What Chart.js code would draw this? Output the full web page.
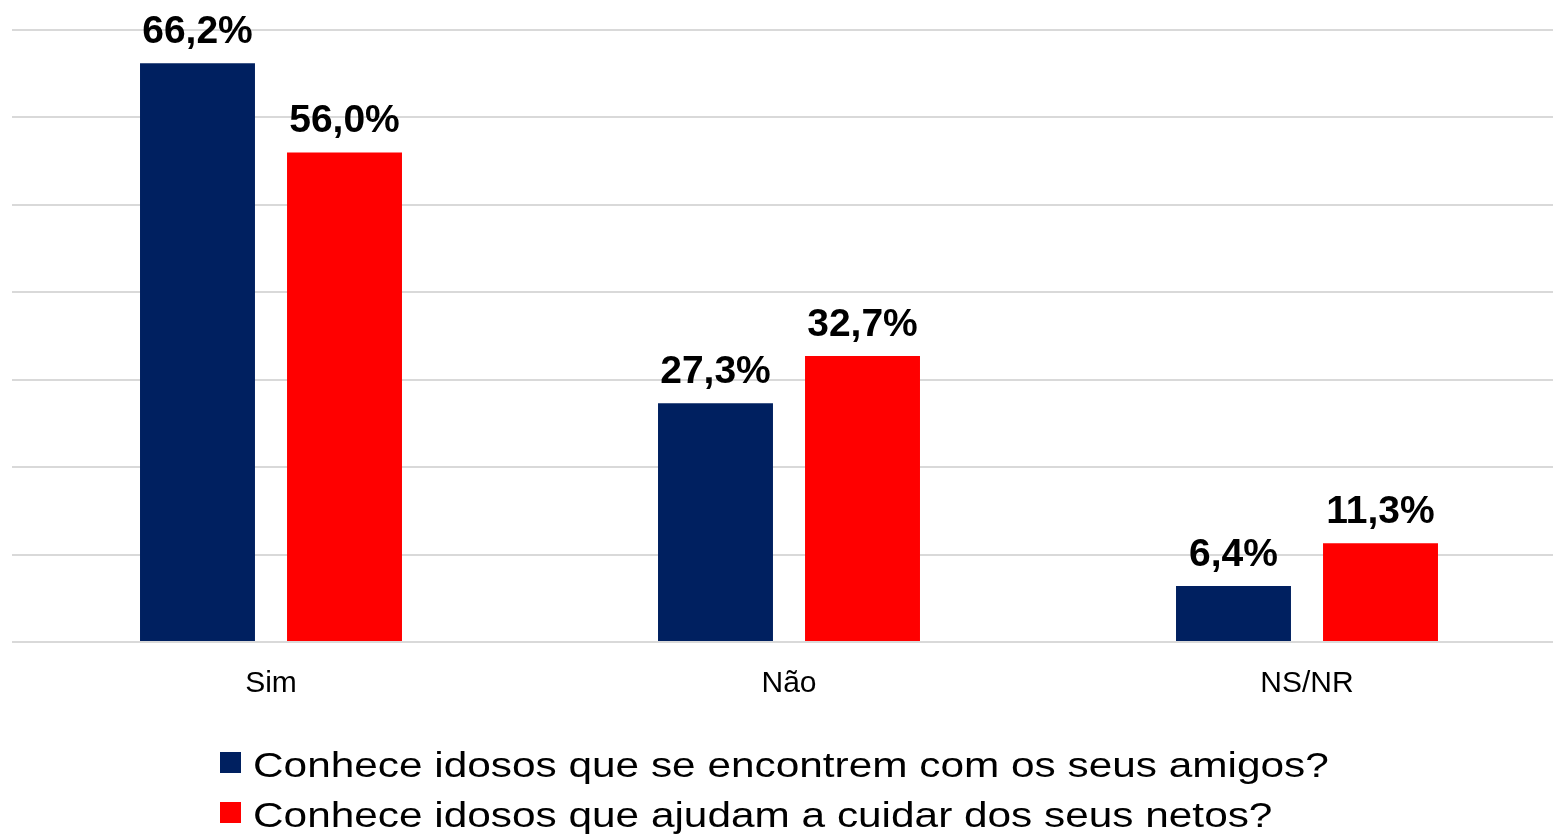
<!DOCTYPE html>
<html>
<head>
<meta charset="utf-8">
<script src="https://cdn.jsdelivr.net/npm/chart.js@4.4.1/dist/chart.umd.min.js"></script>
<style>
  html, body { margin: 0; padding: 0; background: #ffffff; overflow: hidden; }
  #wrap { width: 1580px; height: 834px; }
</style>
</head>
<body>
<div id="wrap"><canvas id="c" width="1580" height="834"></canvas></div>
<script>
const categories = ["Sim", "Não", "NS/NR"];
const seriesNames = [
  "Conhece idosos que se encontrem com os seus amigos?",
  "Conhece idosos que ajudam a cuidar dos seus netos?"
];
const amigosValues = [66.2, 27.3, 6.4];
const netosValues = [56.0, 32.7, 11.3];
const yMin = 0, yMax = 70, yStep = 10;
const seriesColors = ["#002060", "#FF0000"];

const FONT = "'Liberation Sans', Arial, sans-serif";

const valueLabels = {
  id: 'valueLabels',
  afterDatasetsDraw(chart) {
    const ctx = chart.ctx;
    ctx.save();
    ctx.font = "bold 39px " + FONT;
    ctx.fillStyle = "#000000";
    ctx.textAlign = "center";
    ctx.textBaseline = "alphabetic";
    chart.data.datasets.forEach((ds, di) => {
      const meta = chart.getDatasetMeta(di);
      meta.data.forEach((bar, i) => {
        const txt = ds.data[i].toFixed(1).replace('.', ',') + '%';
        ctx.fillText(txt, bar.x, bar.y - 20);
      });
    });
    ctx.restore();
  }
};

const customLegend = {
  id: 'customLegend',
  afterDraw(chart) {
    const ctx = chart.ctx;
    ctx.save();
    const boxX = 220, boxSize = 21;
    const rows = [{ boxTop: 752, baseline: 777 }, { boxTop: 802, baseline: 827 }];
    chart.data.datasets.forEach((ds, di) => {
      const r = rows[di];
      ctx.fillStyle = ds.backgroundColor;
      ctx.fillRect(boxX, r.boxTop, boxSize, boxSize);
      ctx.save();
      ctx.translate(253, r.baseline);
      ctx.scale(1.21, 1);
      ctx.font = "35px " + FONT;
      ctx.fillStyle = "#000000";
      ctx.textAlign = "left";
      ctx.textBaseline = "alphabetic";
      ctx.fillText(ds.label, 0, 0);
      ctx.restore();
    });
    ctx.restore();
  }
};

new Chart(document.getElementById('c'), {
  type: 'bar',
  data: {
    labels: categories,
    datasets: [
      { label: seriesNames[0], data: amigosValues, backgroundColor: seriesColors[0] },
      { label: seriesNames[1], data: netosValues, backgroundColor: seriesColors[1] }
    ]
  },
  options: {
    responsive: false,
    animation: false,
    devicePixelRatio: 1,
    layout: { padding: { left: 12, right: 14, top: 30, bottom: 108 } },
    datasets: { bar: { categoryPercentage: 0.5676, barPercentage: 0.782 } },
    plugins: { legend: { display: false }, tooltip: { enabled: false } },
    scales: {
      x: {
        grid: { display: false, drawTicks: false },
        border: { display: false },
        ticks: { color: "#000000", font: { family: FONT, size: 30 }, padding: 24 }
      },
      y: {
        min: yMin, max: yMax,
        ticks: { display: false, stepSize: yStep },
        grid: { color: "#d9d9d9", lineWidth: 2, drawTicks: false },
        border: { display: false }
      }
    }
  },
  plugins: [valueLabels, customLegend]
});
</script>
</body>
</html>
